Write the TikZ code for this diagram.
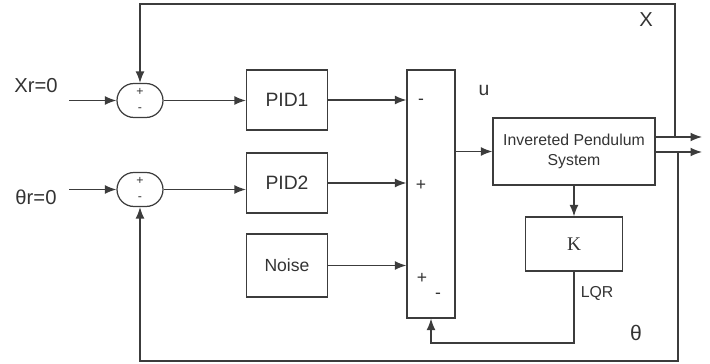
\documentclass[tikz,border=0pt]{standalone}
\usepackage{fontspec}
\setmainfont{Liberation Sans}
\newfontfamily\serifk{Liberation Serif}
\usepackage{tikz}
\usetikzlibrary{shapes.misc, arrows.meta, positioning, calc}
\definecolor{wire}{HTML}{3C3C3C}
\definecolor{ink}{HTML}{333333}

\tikzset{
  blockbox/.style={draw=wire, line width=0.7pt, text=ink, align=center, inner sep=0pt},
  sumbox/.style={draw=wire, line width=0.7pt, rounded rectangle, minimum width=0.92cm, minimum height=0.68cm, inner sep=0pt},
  sgn/.style={text=ink, font=\fontsize{7}{7}\selectfont, inner sep=0pt},
  lbl/.style={text=ink, inner sep=0pt},
  wirearr/.style={draw=wire, line width=0.7pt, -{Latex[length=6.5pt,width=5pt]}},
  wireln/.style={draw=wire, line width=0.7pt}
}

\begin{document}
\begin{tikzpicture}[x=0.02cm, y=-0.02cm]
    \useasboundingbox (0,0) rectangle (710,364);
    % Summing junctions
    \node[sumbox] (sum1) at (140,100.5) {};
    \node[sumbox] (sum2) at (140,189.5) {};
    \node[sgn] at (140,92) {+};
    \node[sgn] at (140,110) {-};
    \node[sgn] at (140,181) {+};
    \node[sgn] at (140,199) {-};
    % Controllers and noise source
    \node[blockbox, minimum width=1.62cm, minimum height=1.2cm, font=\fontsize{11}{11}\selectfont] (pid1) at (287,100) {PID1};
    \node[blockbox, minimum width=1.62cm, minimum height=1.2cm, font=\fontsize{11}{11}\selectfont] (pid2) at (287,183) {PID2};
    \node[blockbox, minimum width=1.62cm, minimum height=1.26cm, font=\fontsize{10}{10}\selectfont] (noise) at (287,265.5) {Noise};
    % Adder bar
    \node[blockbox, minimum width=0.96cm, minimum height=4.96cm] (adder) at (431,194) {};
    \node[lbl, font=\fontsize{10}{10}\selectfont] at (421,102) {-};
    \node[lbl, font=\fontsize{10}{10}\selectfont] at (421,185) {+};
    \node[lbl, font=\fontsize{10}{10}\selectfont] at (422,278) {+};
    \node[lbl, font=\fontsize{10}{10}\selectfont] at (438,296) {-};
    % Plant and gain
    \node[blockbox, minimum width=3.24cm, minimum height=1.34cm, font=\fontsize{9}{11}\selectfont] (plant) at (574,151.5) {Invereted Pendulum\\System};
    \node[blockbox, minimum width=1.94cm, minimum height=1.08cm, font=\serifk\fontsize{11}{11}\selectfont] (gain) at (574,244) {K};
    % Labels
    \node[lbl, font=\fontsize{11.5}{11.5}\selectfont] at (36,86) {Xr=0};
    \node[lbl, font=\fontsize{11.5}{11.5}\selectfont] at (36,197) {θr=0};
    \node[lbl, font=\fontsize{11}{11}\selectfont] at (484,90) {u};
    \node[lbl, font=\fontsize{11.5}{11.5}\selectfont] at (646,20) {X};
    \node[lbl, font=\fontsize{9}{9}\selectfont] at (597,293) {LQR};
    \node[lbl, font=\fontsize{12}{12}\selectfont] at (636,333) {θ};
    % Free ends and corners
    \coordinate (in1) at (69,100.5);
    \coordinate (in2) at (69,189.5);
    \coordinate (out1) at (702,137);
    \coordinate (out2) at (702,152);
    \coordinate (tapx) at (675,137);
    \coordinate (tapt) at (678,152);
    \coordinate (topx) at (675,4);
    \coordinate (bott) at (678,361);
    \coordinate (kret) at (431,343);
    % Forward path
    \draw[wirearr] (in1) -- (sum1.west);
    \draw[wirearr] (in2) -- (sum2.west);
    \draw[wirearr] (sum1.east) -- (sum1.east -| pid1.west);
    \draw[wirearr] (sum2.east) -- (sum2.east -| pid2.west);
    \draw[wirearr] (pid1.east) -- (pid1.east -| adder.west);
    \draw[wirearr] (pid2.east) -- (pid2.east -| adder.west);
    \draw[wirearr] (noise.east) -- (noise.east -| adder.west);
    \draw[wirearr] (plant.west -| adder.east) -- (plant.west);
    \draw[wirearr] (out1 -| plant.east) -- (out1);
    \draw[wirearr] (out2 -| plant.east) -- (out2);
    % Feedback paths
    \draw[wirearr] (tapx) -- (topx) -| (sum1.north);
    \draw[wirearr] (tapt) -- (bott) -| (sum2.south);
    \draw[wirearr] (plant.south) -- (gain.north);
    \draw[wirearr] (gain.south) |- (kret) -- (adder.south);
\end{tikzpicture}
\end{document}
